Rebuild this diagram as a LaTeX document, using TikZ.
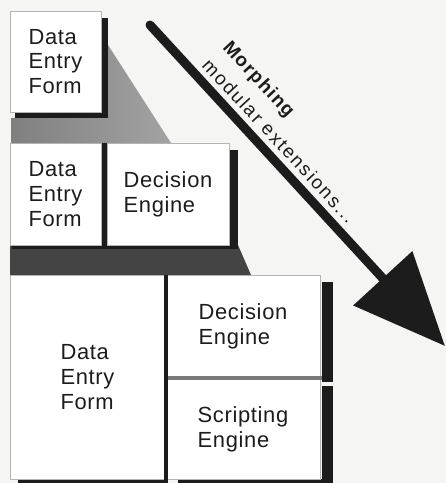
\documentclass[tikz,border=0pt]{standalone}
\usepackage{fontspec}
\setmainfont{Liberation Sans}
\newfontfamily\boxfont[LetterSpace=3]{Liberation Sans}
\newfontfamily\arrfont[LetterSpace=10]{Liberation Sans}
\newfontfamily\arrboldfont[LetterSpace=7]{Liberation Sans Bold}
\usetikzlibrary{arrows.meta}
\definecolor{paper}{HTML}{F5F5F3}
\definecolor{ink}{HTML}{1C1C1C}
\definecolor{edge}{HTML}{B4B4B4}
\definecolor{band}{HTML}{444444}
\definecolor{sep}{HTML}{7A7A7A}
\begin{document}
\begin{tikzpicture}[x=1bp,y=-1bp,
  box/.style={draw=edge, line width=0.9bp, fill=white, inner sep=0pt, outer sep=0pt,
    align=left, text=ink, font=\boxfont\fontsize{22}{25}\selectfont},
  shadowfill/.style={fill=ink},
  arrowtxt/.style={text=ink, inner sep=0pt, rotate=-47.3, anchor=base west,
    font=\arrfont\fontsize{19}{23}\selectfont}]
\fill[paper] (0,0) rectangle (446,483);
\useasboundingbox (0,0) rectangle (446,483);

% ---- row 1 ----
\shade[left color=black!50, right color=black!36]
  (11,118) -- (108,118) -- (108,45) -- (171,143) -- (11,143) -- cycle;
\fill[shadowfill] (15,18) rectangle (108,118);
\node[box, minimum width=91bp, minimum height=101bp] (dataA) at (55.5,61.5) {Data\\Entry\\Form};

% ---- row 2 ----
\fill[band] (10,245) -- (238,245) -- (251,275) -- (10,275) -- cycle;
\fill[shadowfill] (12,244) rectangle (238,248.5);
\fill[shadowfill] (228,150) rectangle (238,246);
\fill[shadowfill] (100,143) rectangle (107,246);
\node[box, minimum width=91bp, minimum height=102bp] (dataB) at (55.5,194) {Data\\Entry\\Form};
\node[box, minimum width=122bp, minimum height=102bp] (decB) at (168,194) {Decision\\Engine};

% ---- row 3 ----
\fill[shadowfill] (322,282) rectangle (333,382);
\fill[shadowfill] (322,386) rectangle (333,483);
\fill[shadowfill] (18,479) rectangle (168,483);
\fill[shadowfill] (178,479) rectangle (333,483);
\node[box, minimum width=155bp, minimum height=204bp] (dataC) at (87.5,377) {Data\\Entry\\Form};
\node[box, minimum width=154bp, minimum height=102bp] (decC) at (243,326) {Decision\\Engine};
\node[box, minimum width=154bp, minimum height=100bp] (scrC) at (243,429) {Scripting\\Engine};
\fill[ink] (163.5,275) rectangle (167.5,481);
\fill[sep] (167.5,376) rectangle (322,379.5);

% ---- arrow ----
\coordinate (arrS) at (150,25);
\coordinate (arrT) at (445,346);
\draw[ink, line width=9bp, line cap=round, -{Triangle[length=92bp, width=78bp]}] (arrS) -- (arrT);
\node[arrowtxt, font=\arrboldfont\fontsize{19}{23}\selectfont] (morph) at (222,48) {Morphing};
\node[arrowtxt] (modext) at (201,66) {modular extensions...};
\end{tikzpicture}
\end{document}
